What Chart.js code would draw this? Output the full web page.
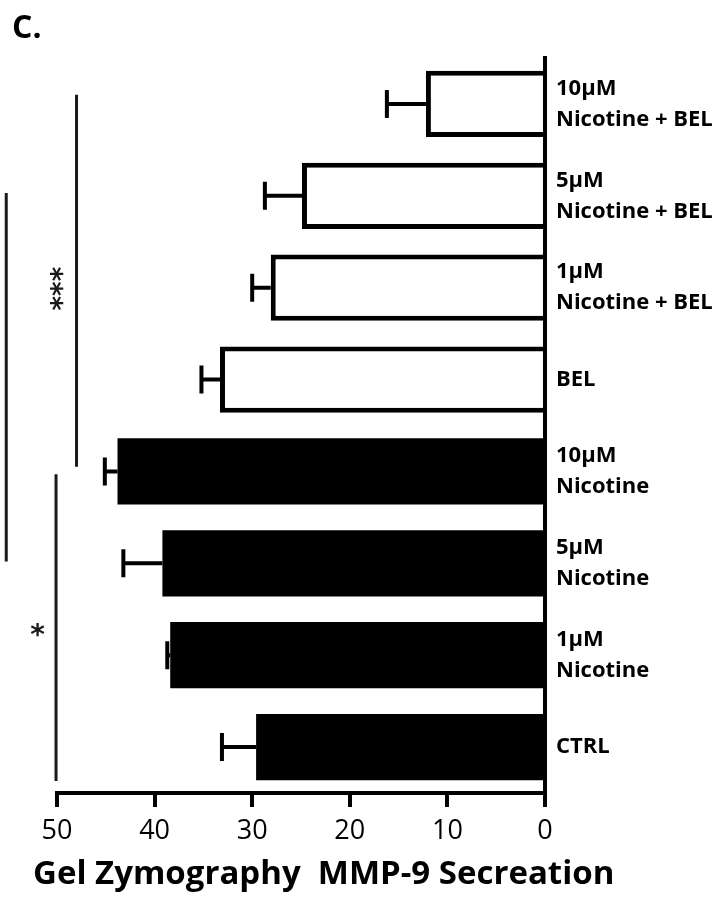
<!DOCTYPE html>
<html>
<head>
<meta charset="utf-8">
<script src="https://cdn.jsdelivr.net/npm/chart.js@4.4.1/dist/chart.umd.min.js"></script>
<style>
  html, body { margin: 0; padding: 0; background: #fff; }
  #wrap { width: 723px; height: 897px; }
</style>
</head>
<body>
<div id="wrap"><canvas id="mmp9Chart" width="723" height="897"></canvas></div>
<script>
// ── data ──
const categories = [
    ['10µM', 'Nicotine + BEL'],
    ['5µM', 'Nicotine + BEL'],
    ['1µM', 'Nicotine + BEL'],
    'BEL',
    ['10µM', 'Nicotine'],
    ['5µM', 'Nicotine'],
    ['1µM', 'Nicotine'],
    'CTRL'
];
const secretion = [12.2, 24.9, 28.1, 33.3, 43.8, 39.2, 38.4, 29.6];
const sem       = [4.0, 3.8, 1.9, 1.9, 1.3, 4.0, 0.3, 3.5];
const withBel   = [true, true, true, true, false, false, false, false];
const xTicks    = [0, 10, 20, 30, 40, 50];

const panelLabel = 'C.';
const axisTitle  = 'Gel Zymography  MMP-9 Secreation';

document.addEventListener('DOMContentLoaded', function () {

    const ink = '#000';

    // error bars drawn outward (to the left) from each bar end
    const errorBars = {
        id: 'errorBars',
        afterDatasetsDraw(chart) {
            const { ctx, scales: { x } } = chart;
            const meta = chart.getDatasetMeta(0);
            ctx.save();
            ctx.strokeStyle = ink;
            ctx.lineWidth = 4;
            meta.data.forEach((bar, i) => {
                const x0 = x.getPixelForValue(secretion[i]);
                const x1 = x.getPixelForValue(secretion[i] + sem[i]);
                ctx.beginPath();
                ctx.moveTo(x0, bar.y);
                ctx.lineTo(x1, bar.y);
                ctx.moveTo(x1, bar.y - 14);
                ctx.lineTo(x1, bar.y + 14);
                ctx.stroke();
            });
            ctx.restore();
        }
    };

    // significance lines + stars on the left, panel letter and axis title
    const annotations = {
        id: 'annotations',
        afterDraw(chart) {
            const { ctx, scales: { x, y } } = chart;
            const lines = [
                { value: 48.0, from: -0.1, to: 3.95 },
                { value: 55.2, from: 0.97, to: 4.98 },
                { value: 50.1, from: 4.03, to: 7.37 }
            ];
            ctx.save();
            ctx.strokeStyle = '#1a1a1a';
            ctx.lineWidth = 3;
            lines.forEach(l => {
                const px = x.getPixelForValue(l.value);
                ctx.beginPath();
                ctx.moveTo(px, y.getPixelForValue(l.from));
                ctx.lineTo(px, y.getPixelForValue(l.to));
                ctx.stroke();
            });

            ctx.fillStyle = '#1a1a1a';
            ctx.font = 'bold 28px "DejaVu Sans"';
            ctx.textAlign = 'center';
            ctx.textBaseline = 'middle';
            // *** rotated along the line
            ctx.save();
            ctx.translate(x.getPixelForValue(49.9), y.getPixelForValue(2.01));
            ctx.rotate(-Math.PI / 2);
            ctx.fillText('***', 0, 6);
            ctx.restore();
            ctx.fillText('*', x.getPixelForValue(52.0), y.getPixelForValue(5.73) + 6);

            ctx.fillStyle = ink;
            ctx.textAlign = 'left';
            ctx.textBaseline = 'alphabetic';
            ctx.font = 'bold 32px "Open Sans"';
            ctx.fillText(panelLabel, 12, 38);
            ctx.font = 'bold 33px "Open Sans"';
            ctx.fillText(axisTitle, 33, 884);
            ctx.restore();
        }
    };

    const ctx = document.getElementById('mmp9Chart');

    new Chart(ctx, {
        type: 'bar',
        data: {
            labels: categories,
            datasets: [{
                data: secretion,
                backgroundColor: withBel.map(b => b ? '#fff' : ink),
                borderColor: ink,
                borderWidth: withBel.map(b => b ? 5 : 0),
                borderSkipped: 'start',
                barPercentage: 0.72,
                categoryPercentage: 1.0,
            }]
        },
        options: {
            indexAxis: 'y',
            responsive: false,
            animation: false,
            layout: { padding: { left: 57, top: 58, right: 0, bottom: 0 } },
            plugins: {
                legend: { display: false },
                tooltip: { enabled: false }
            },
            scales: {
                x: {
                    reverse: true,
                    min: 0,
                    max: 50,
                    afterBuildTicks: s => { s.ticks = xTicks.map(v => ({ value: v })); },
                    afterFit: s => { s.height = 104; },
                    border: { display: true, color: ink, width: 4 },
                    grid: { drawOnChartArea: false, drawTicks: true, tickLength: 14, color: ink, lineWidth: 4 },
                    ticks: {
                        color: ink,
                        padding: 8,
                        maxRotation: 0,
                        font: { family: 'Open Sans', size: 27, lineHeight: 1.2 }
                    }
                },
                y: {
                    position: 'right',
                    afterFit: s => { s.width = 178; },
                    border: { display: true, color: ink, width: 4 },
                    grid: { drawOnChartArea: false, drawTicks: false },
                    ticks: {
                        color: ink,
                        padding: 11,
                        font: { family: 'Open Sans', size: 22, weight: 'bold', lineHeight: 1.41 }
                    }
                }
            }
        },
        plugins: [errorBars, annotations]
    });

});
</script>
</body>
</html>
